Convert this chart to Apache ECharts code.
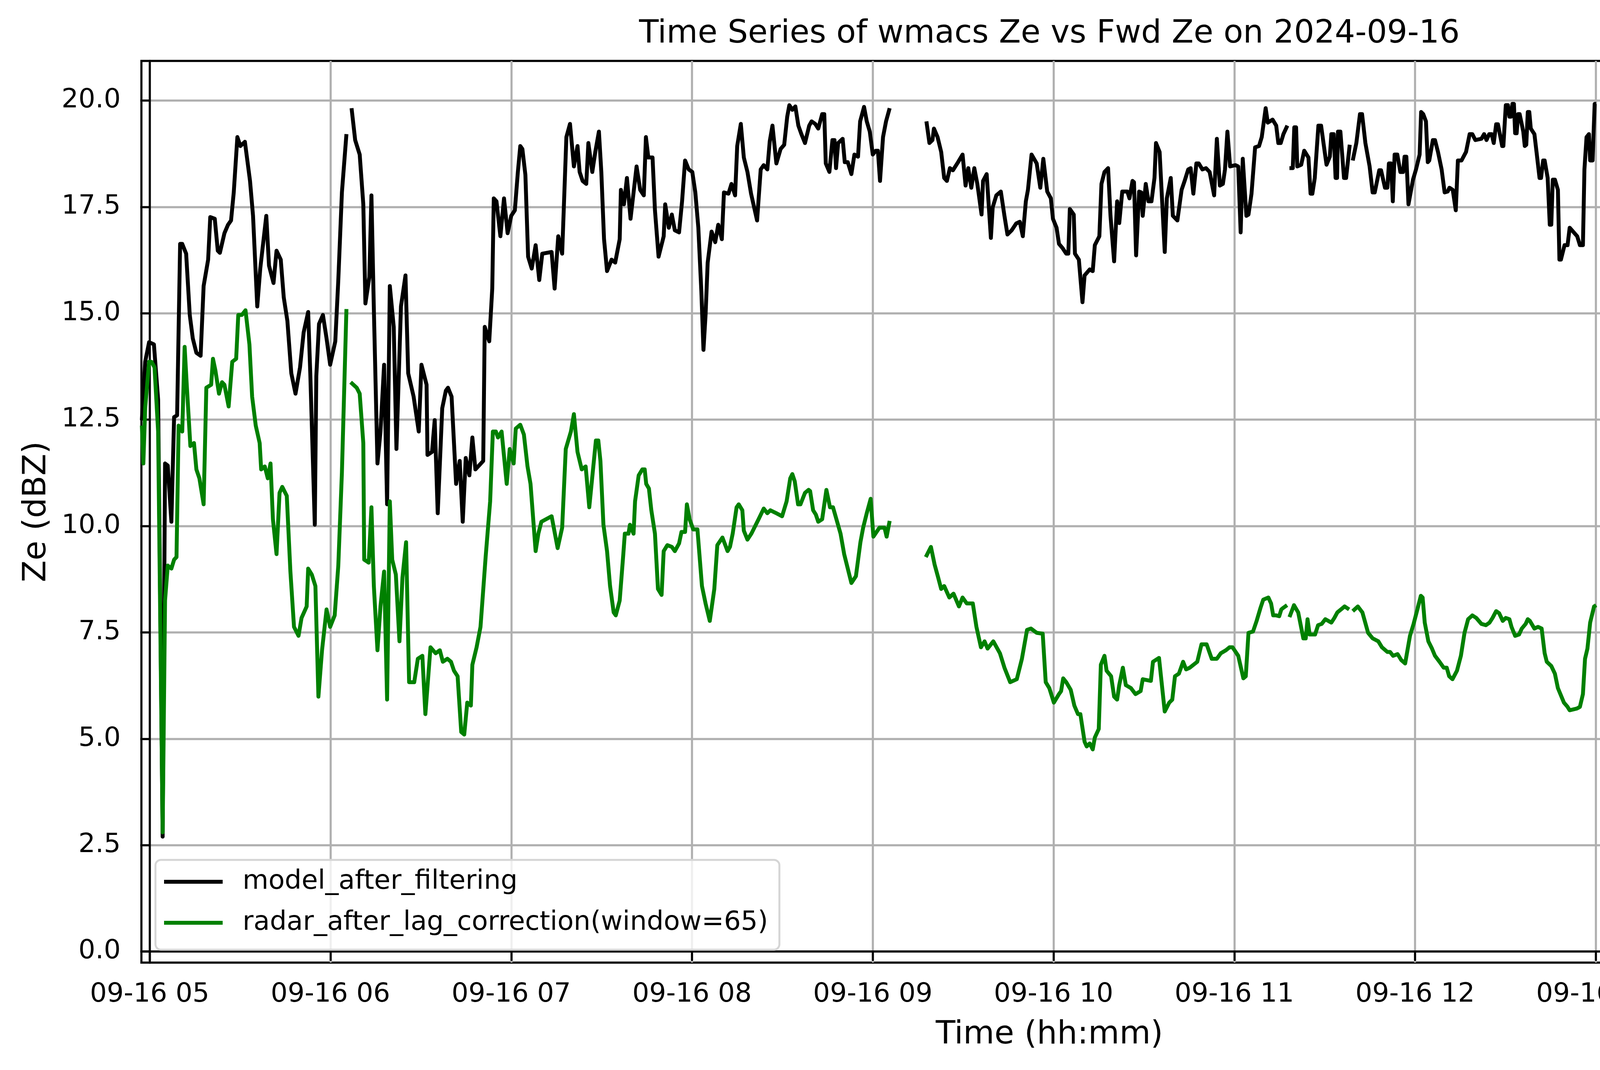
<!DOCTYPE html>
<html>
<head>
<meta charset="utf-8">
<title>Time Series of wmacs Ze vs Fwd Ze on 2024-09-16</title>
<script src="https://cdn.jsdelivr.net/npm/echarts@6/dist/echarts.min.js"></script>
<style>
  html, body { margin: 0; padding: 0; background: #fff; }
  #main { width: 5216px; height: 2740px; }
</style>
</head>
<body>
<div id="main"></div>
<script>
// minutes after 09-16 05:00; null = gap in the record
var modelMinutes = [
  -2.6,-1.5,-0.2,1.4,2.8,4.3,5.1,6.0,7.2,8.1,
  9.1,10.1,10.8,12.1,13.3,14.3,15.5,16.9,17.9,19.4,
  20.1,21.6,22.6,23.3,24.8,26.0,27.0,27.9,29.1,30.1,
  31.6,33.3,34.3,35.7,36.7,38.7,39.6,41.1,42.1,43.5,
  44.5,45.7,47.0,48.4,49.9,51.1,52.6,53.3,54.8,55.3,
  56.2,57.5,58.7,59.9,61.6,62.6,63.8,65.3,66.1,67.0,
  68.2,69.7,70.9,71.6,72.9,73.6,74.4,75.6,76.6,77.8,
  78.8,79.7,81.0,81.9,83.4,84.9,85.8,87.6,89.3,90.2,
  91.9,92.2,93.7,94.6,95.6,97.1,98.3,99.0,100.2,101.7,
  102.9,103.9,104.9,106.1,107.1,108.1,110.7,111.2,112.7,113.7,
  114.2,115.1,116.4,117.6,118.8,120.0,121.2,122.2,123.0,123.7,
  124.7,125.6,126.8,128.1,129.3,130.3,133.4,134.4,135.6,136.9,
  138.3,139.5,140.8,142.0,142.7,143.7,144.9,145.6,146.9,147.9,
  149.1,149.9,150.8,151.8,153.3,154.5,156.0,156.4,157.4,158.4,
  159.6,161.6,162.8,164.0,164.7,165.5,166.9,167.7,168.9,170.6,
  171.1,172.3,173.3,174.3,175.7,176.7,177.7,178.9,180.1,181.1,
  182.1,183.1,183.8,184.5,185.2,186.5,187.7,188.7,189.9,190.6,
  192.1,193.1,194.3,195.0,196.2,197.2,198.4,199.6,201.6,202.8,
  203.8,205.0,205.8,206.7,208.0,209.4,210.6,211.6,212.3,213.3,
  214.3,215.3,216.3,217.5,218.9,219.7,220.9,221.9,223.2,223.9,
  224.4,225.6,226.6,227.3,227.8,228.5,230.0,230.7,231.7,232.9,
  233.9,235.1,235.8,237.1,238.0,239.0,240.0,241.0,241.7,242.4,
  243.4,244.4,245.6,246.5,257.8,258.8,259.8,260.3,261.5,262.7,
  263.7,264.6,265.6,266.6,268.3,269.8,270.8,271.7,272.7,273.7,
  274.7,276.1,276.6,277.8,279.2,279.8,281.0,282.5,283.7,284.7,
  286.1,287.6,288.8,289.8,290.8,291.5,292.7,294.4,295.6,296.6,
  297.9,299.1,299.8,301.0,301.8,303.0,304.2,304.9,305.4,306.7,
  307.1,308.4,309.6,310.3,312.0,313.0,313.7,315.2,315.9,316.9,
  318.1,318.9,320.1,321.1,321.8,322.8,324.5,325.2,326.2,326.7,
  327.4,328.4,329.1,329.6,330.6,331.5,332.5,333.5,334.0,335.2,
  336.9,337.6,338.9,339.6,341.1,342.5,343.5,344.7,345.5,346.4,
  347.4,348.2,349.4,350.6,351.8,353.3,354.2,355.2,356.2,356.9,
  357.7,358.6,360.4,361.3,362.1,362.8,364.0,364.7,365.7,366.9,
  368.2,369.1,370.4,371.1,372.7,373.9,374.6,375.4,376.3,377.6,
  378.0,378.3,379.4,379.9,380.5,380.9,382.2,383.2,384.6,385.3,
  385.9,386.7,387.9,388.8,390.0,390.6,391.7,392.2,393.0,393.6,
  394.1,394.4,395.2,396.4,397.1,398.3,398.8,399.3,400.5,401.7,
  402.4,403.5,404.9,405.9,406.6,408.1,408.7,410.0,410.8,411.3,
  412.0,412.6,413.2,414.1,415.1,416.0,416.5,417.1,417.8,419.3,
  420.3,421.5,422.0,422.7,423.6,424.2,424.7,425.9,426.6,427.6,
  428.8,429.8,430.8,431.4,432.5,433.5,434.2,435.4,436.9,438.1,
  439.0,440.0,442.0,442.9,443.7,444.6,445.4,446.1,446.9,447.5,
  448.9,449.3,450.1,450.8,451.3,451.8,452.3,452.8,453.2,453.7,
  454.2,454.7,455.9,456.4,456.9,457.4,457.9,458.4,459.6,460.3,
  461.3,461.8,462.5,463.0,464.0,464.7,465.2,465.7,466.4,467.4,
  467.9,468.4,469.6,470.6,471.3,473.8,474.7,475.7,476.2,476.9,
  477.7,478.1,478.9,479.6,480.1,481.5,483.3,484.0,485.2,486.4,
  487.7,487.9,488.4,488.9,489.6,490.6,491.6,492.5,493.5,494.7,
  496.0,497.2,498.4,498.9,499.6,500.1,500.6,501.1,502.1,503.3,
  504.3,505.2,506.2,507.4,508.2,509.6,510.1,510.8,511.3,512.1,
  513.0,514.0,514.5,515.2,516.2,516.9,518.7,520.1,521.1,521.6,
  522.1,523.3,524.3,525.1,525.9,526.4,527.5,528.3,529.3,530.1,
  530.9,531.5,532.5,533.4,534.4,535.2,535.8,536.9,538.5,539.4,
  540.5,541.3,542.1,543.1,543.6,544.4,545.0,546.6,548.1,548.9,
  549.7,550.8,551.6,552.4,553.4,554.2,555.1,556.0,556.6,557.4,
  558.5,559.5,560.3,561.4,562.4,563.4,564.0,564.6,565.6,566.7,
  567.5,568.3,569.1,570.1,571.2,572.2,573.6,574.4,575.2,576.0,
  576.5,577.3,578.1,578.9,579.7,582.0,584.9,587.1,590.0,595.8,
  596.9,597.7,598.7,599.9
];
var modelZe = [
  12.49,13.86,14.32,14.27,12.97,2.70,11.47,11.42,10.10,12.56,
  12.60,16.63,16.63,16.40,14.96,14.41,14.07,14.00,15.64,16.26,
  17.26,17.22,16.47,16.42,16.88,17.08,17.18,17.84,19.14,18.93,
  19.03,18.11,17.29,15.16,16.05,17.29,16.12,15.71,16.47,16.26,
  15.37,14.82,13.59,13.11,13.73,14.55,15.03,13.59,10.03,13.52,
  14.75,14.96,14.41,13.79,14.34,15.78,17.84,19.21,null,19.82,
  19.07,18.73,17.56,15.23,15.85,17.77,15.10,11.47,12.22,13.79,
  10.51,15.64,14.68,11.81,15.16,15.89,13.59,13.04,12.22,13.79,
  13.32,11.67,11.74,12.49,10.30,12.77,13.18,13.25,13.04,10.99,
  11.53,10.10,11.60,11.19,12.08,11.33,11.53,14.68,14.34,15.58,
  17.70,17.63,16.81,17.70,16.88,17.29,17.42,18.32,18.93,18.86,
  18.25,16.33,16.05,16.60,15.78,16.40,16.44,15.58,16.81,16.40,
  19.14,19.45,18.45,18.93,18.32,18.11,18.04,19.00,18.32,18.79,
  19.27,18.32,16.74,15.99,16.26,16.19,16.74,17.90,17.56,18.18,
  17.22,18.45,17.90,17.77,19.14,18.66,18.66,17.42,16.33,16.81,
  17.56,17.01,17.32,16.95,16.90,17.63,18.59,18.38,18.32,17.84,
  17.01,15.51,14.14,14.96,16.19,16.92,16.67,17.08,16.74,17.84,
  17.81,18.04,17.77,18.93,19.45,18.66,18.32,17.81,17.18,18.38,
  18.48,18.38,19.04,19.41,18.52,18.86,18.96,19.62,19.89,19.78,
  19.86,19.41,19.21,19.00,19.41,19.51,19.45,19.34,19.68,19.68,
  18.52,18.32,19.07,19.07,18.41,19.00,19.10,18.55,18.55,18.27,
  18.73,18.68,19.51,19.85,19.51,19.27,18.73,18.82,18.82,18.11,
  19.14,19.51,19.82,null,19.51,19.00,19.07,19.34,19.14,18.79,
  18.18,18.11,18.41,18.36,18.55,18.73,18.00,18.41,17.95,18.41,
  18.04,17.32,18.11,18.27,16.77,17.49,17.77,17.86,17.29,16.85,
  16.95,17.11,17.15,16.81,17.63,17.90,18.73,18.52,17.95,18.63,
  17.86,17.70,17.22,17.01,16.63,16.53,16.40,16.40,17.45,17.32,
  16.40,16.26,15.26,15.89,16.03,15.99,16.60,16.81,18.04,18.32,
  18.41,17.29,16.22,17.63,17.12,17.86,17.86,17.70,18.11,18.08,
  16.36,17.86,17.84,17.29,18.04,17.63,17.63,18.18,19.00,18.79,
  16.44,17.70,18.18,17.29,17.18,17.90,18.11,18.38,18.41,17.81,
  18.52,18.52,18.38,18.41,18.32,17.77,19.10,18.00,18.04,18.38,
  19.27,18.45,18.48,18.45,16.90,18.63,17.29,17.32,17.81,18.90,
  18.93,19.14,19.82,19.48,19.55,19.41,19.00,19.00,19.21,19.41,
  null,18.41,18.41,19.37,19.37,18.45,18.49,18.82,18.66,17.81,
  17.81,18.18,19.41,19.41,18.79,18.49,18.68,19.21,19.21,18.18,
  18.18,19.27,19.27,18.18,18.18,18.96,null,18.59,19.00,19.68,
  19.68,19.00,18.45,17.84,17.84,18.36,18.36,17.95,17.95,18.52,
  18.52,17.63,18.73,18.73,18.32,18.32,18.68,18.68,17.56,18.14,
  18.38,18.73,19.73,19.68,19.51,18.55,18.59,19.07,19.07,18.79,
  18.38,17.84,17.86,17.95,17.90,17.42,18.59,18.59,18.79,19.21,
  19.21,19.07,19.10,19.21,19.07,19.21,19.21,19.00,19.44,19.44,
  18.93,18.93,19.89,19.89,19.62,19.62,19.92,19.92,19.23,19.23,
  19.68,19.68,19.27,18.93,18.96,19.73,19.73,19.34,19.21,18.79,
  18.18,18.18,18.59,18.59,18.18,17.08,17.08,18.14,18.14,17.90,
  16.26,16.26,16.60,16.60,17.01,16.81,16.60,16.60,18.38,19.14,
  19.21,18.59,18.59,19.92,19.92,null,19.86,19.82,19.62,18.79,
  18.18,17.49,17.49,19.82,19.82,19.68,19.07,16.81,16.33,14.89,
  14.21,13.52,12.70,12.70,14.07,14.07,11.88,11.88,12.56,13.79,
  14.34,14.62,15.51,16.81,16.74,18.11,18.11,17.22,17.22,17.95,
  18.18,18.52,18.52,18.11,18.25,18.18,17.49,16.95,16.40,15.44,
  15.44,16.81,17.84,18.04,17.63,17.63,18.52,18.68,18.59,18.11,
  18.63,18.63,18.32,17.49,17.40,16.99,17.67,17.90,17.95,17.15,
  17.90,17.81,17.86,18.00,18.82,18.45,18.45,18.82,18.86,19.48,
  19.27,19.21,19.27,19.21,18.73,18.32,18.11,19.14,19.14,18.73,
  18.36,18.38,18.41,18.45,18.41,18.55,18.55,15.58,15.71,14.62,
  13.38,12.77,12.70,13.11,14.96,15.78,16.81,17.63,18.18,17.86,
  17.84,18.14,18.00,18.00,18.86,null,20.00,19.89,null,19.92,
  19.14,17.84,17.49,16.63
];

var radarMinutes = [
  -2.6,-2.1,-1.5,-0.2,0.6,1.6,2.8,4.3,5.1,6.0,
  7.2,8.1,8.9,9.6,10.8,11.6,12.3,13.5,14.7,15.5,
  16.5,17.9,18.8,20.4,21.0,21.8,23.0,24.0,24.8,26.2,
  27.4,28.7,29.4,30.6,31.8,33.1,34.0,35.2,36.5,37.0,
  38.2,39.2,40.1,40.9,42.1,43.1,44.0,45.5,46.7,47.9,
  49.4,50.4,52.1,52.6,53.8,55.0,56.0,57.2,58.7,59.9,
  61.4,62.6,63.8,65.3,66.1,66.7,68.7,69.7,70.9,71.2,
  72.7,73.6,74.4,75.6,76.6,77.8,78.8,79.7,80.5,81.7,
  82.9,83.9,85.1,86.1,87.8,89.0,90.5,91.5,93.2,94.9,
  96.3,97.3,98.8,100.0,101.0,102.2,103.4,104.4,105.4,106.6,
  107.1,108.5,109.8,111.5,113.0,113.9,114.9,115.6,116.8,118.5,
  119.5,120.8,121.5,123.0,124.2,125.4,126.4,128.1,129.0,130.0,
  133.4,135.4,136.9,138.1,139.8,140.8,142.0,143.4,144.7,145.9,
  148.1,148.9,149.6,150.6,151.8,152.8,154.0,154.7,156.0,157.2,
  157.7,158.9,159.4,160.6,161.1,162.3,163.5,164.3,164.8,165.7,
  166.5,167.7,168.7,169.9,170.6,171.8,173.3,174.3,175.7,176.5,
  177.7,178.3,179.2,180.4,181.8,183.3,184.5,185.9,187.4,188.4,
  190.1,191.8,192.6,193.5,194.8,195.5,196.7,197.2,198.4,199.7,
  202.1,203.8,205.0,206.0,208.0,209.9,211.4,212.6,213.3,214.1,
  215.2,216.0,217.5,218.7,219.2,220.2,221.1,221.9,223.2,224.6,
  225.8,226.8,229.3,230.5,232.9,234.4,235.9,236.8,238.0,239.3,
  240.2,242.2,243.9,244.6,245.6,246.5,257.6,259.3,260.5,261.7,
  262.7,263.7,265.4,266.8,268.6,269.8,271.2,273.2,274.4,275.9,
  277.1,278.1,280.0,282.2,283.7,285.6,287.8,289.5,291.2,292.5,
  294.4,296.4,297.4,298.6,300.1,301.8,302.5,303.2,304.2,305.7,
  306.9,308.1,308.9,310.3,311.0,312.0,313.0,313.7,315.0,315.7,
  316.9,317.6,319.1,320.1,321.1,321.8,323.0,324.0,325.7,327.2,
  328.9,329.6,332.3,333.0,335.0,336.9,338.4,339.4,340.3,341.6,
  343.0,344.0,345.2,347.7,349.1,350.8,352.5,354.2,355.5,357.2,
  358.4,359.4,361.3,363.0,363.8,364.7,366.2,367.4,368.7,369.6,
  371.3,372.2,372.9,373.9,374.9,375.6,376.3,377.5,378.0,378.3,
  379.8,381.2,382.9,383.7,384.3,385.0,386.8,387.8,389.0,390.2,
  392.2,393.2,394.2,395.4,396.6,398.1,398.8,399.3,401.0,402.5,
  404.4,405.9,407.8,409.0,410.8,411.7,412.7,414.2,415.4,416.7,
  418.3,419.5,420.5,421.9,422.5,423.2,424.4,425.6,426.6,428.1,
  429.5,430.5,431.3,432.4,433.9,435.2,436.4,437.6,439.0,440.3,
  442.0,443.5,444.7,445.7,446.9,447.9,449.1,450.1,451.3,452.0,
  453.2,454.5,455.4,456.7,457.4,458.1,459.6,460.8,462.0,463.0,
  463.7,465.2,466.4,467.4,469.4,470.6,471.3,473.7,474.7,475.7,
  476.4,477.2,478.1,479.4,480.1,481.5,483.3,484.0,485.5,486.4,
  487.4,488.2,489.0,489.5,490.0,490.4,491.6,492.8,494.7,497.9,
  499.4,500.4,500.8,502.1,502.8,504.0,505.2,506.2,507.4,508.2,
  508.9,509.4,510.4,511.6,512.1,512.8,513.8,514.8,515.7,516.7,
  518.7,519.9,520.6,521.3,522.2,523.3,524.3,525.1,526.4,528.0,
  529.6,531.2,532.5,533.1,534.1,535.4,536.2,537.3,538.4,539.4,
  541.0,542.6,544.4,545.5,547.6,549.3,550.2,551.1,552.6,553.7,
  555.6,557.1,558.7,560.1,560.9,561.6,562.2,563.5,564.0,565.1,
  566.2,566.9,568.3,570.1,571.2,572.2,573.3,574.6,576.2,577.3,
  577.8,578.9,579.9,582.0,585.2,586.8,590.0,595.8,596.9,597.9,
  599.0,599.9
];
var radarZe = [
  12.36,11.47,12.77,13.86,13.86,13.73,12.22,2.80,8.25,9.07,
  9.00,9.21,9.27,12.36,12.22,14.21,13.32,11.88,11.95,11.33,
  11.12,10.51,13.25,13.32,13.93,13.66,13.11,13.38,13.32,12.81,
  13.86,13.93,14.96,14.96,15.07,14.27,13.04,12.36,11.95,11.33,
  11.40,11.12,11.47,10.16,9.34,10.78,10.92,10.71,8.93,7.63,
  7.42,7.84,8.11,9.00,8.86,8.59,5.99,7.08,8.04,7.63,
  7.90,9.07,11.26,15.10,null,13.38,13.25,13.11,11.95,9.21,
  9.14,10.44,8.59,7.08,8.11,8.93,5.92,10.58,9.21,8.86,
  7.29,8.79,9.62,6.33,6.33,6.88,6.95,5.58,7.15,7.01,
  7.08,6.81,6.88,6.81,6.60,6.47,5.16,5.10,5.85,5.78,
  6.74,7.15,7.63,9.27,10.58,12.22,12.22,12.08,12.22,10.99,
  11.81,11.47,12.29,12.38,12.15,11.40,10.99,9.41,9.82,10.10,
  10.23,9.48,9.96,11.81,12.22,12.63,11.74,11.33,11.40,10.44,
  12.01,12.01,11.53,10.03,9.41,8.59,7.97,7.90,8.25,9.34,
  9.82,9.82,10.03,9.82,10.58,11.19,11.33,11.33,10.99,10.88,
  10.37,9.82,8.52,8.38,9.41,9.55,9.51,9.41,9.59,9.86,
  9.86,10.51,10.16,9.92,9.92,8.59,8.18,7.77,8.52,9.55,
  9.73,9.41,9.51,9.82,10.44,10.51,10.37,9.89,9.68,9.82,
  10.16,10.41,10.30,10.37,10.30,10.23,10.58,11.12,11.22,11.05,
  10.51,10.51,10.78,10.85,10.82,10.37,10.27,10.10,10.16,10.85,
  10.44,10.44,9.82,9.34,8.66,8.82,9.62,9.96,10.30,10.64,
  9.75,9.96,9.96,9.75,10.12,null,9.27,9.51,9.10,8.79,
  8.52,8.59,8.32,8.41,8.11,8.32,8.18,8.18,7.63,7.15,
  7.29,7.12,7.29,7.01,6.67,6.33,6.40,6.88,7.56,7.59,
  7.49,7.47,6.33,6.19,5.85,6.05,6.12,6.42,6.33,6.15,
  5.78,5.58,5.58,4.93,4.82,4.89,4.75,5.03,5.23,6.74,
  6.95,6.60,6.47,5.99,5.92,6.26,6.67,6.26,6.19,6.05,
  6.12,6.40,6.36,6.81,6.90,5.64,5.85,5.92,6.47,6.53,
  6.81,6.63,6.67,6.81,7.22,7.22,6.88,6.88,7.01,7.08,
  7.15,7.15,6.95,6.42,6.47,7.49,7.52,7.77,8.08,8.27,
  8.32,8.18,7.90,7.90,7.88,8.04,8.08,8.14,null,7.86,
  8.14,7.97,7.36,7.36,7.81,7.45,7.45,7.67,7.70,7.81,
  7.73,7.84,7.97,8.04,8.11,8.04,null,8.00,8.11,7.97,
  7.49,7.36,7.29,7.15,7.04,7.04,6.95,6.99,6.85,6.77,
  7.42,7.70,7.97,8.36,8.32,7.73,7.29,7.12,6.95,6.81,
  6.67,6.67,6.47,6.40,6.60,6.95,7.49,7.81,7.90,7.84,
  7.70,7.67,7.73,7.84,8.00,7.95,7.77,7.84,7.81,7.63,
  7.42,7.45,7.59,7.70,7.81,7.77,7.59,7.63,7.59,7.01,
  6.81,6.71,6.53,6.19,5.85,5.75,5.67,5.71,5.75,6.05,
  6.88,7.12,7.73,8.11,8.14,null,8.73,8.73,8.45,8.32,
  7.81,6.33,5.92,5.92,7.12,7.12,6.77,5.51,2.08,0.92,
  0.78,1.29,1.29,0.78,0.74,0.96,2.49,4.68,5.64,5.71,
  5.12,5.12,5.67,5.75,6.74,6.74,6.60,6.19,5.99,5.58,
  5.51,5.48,4.48,4.48,4.55,5.64,5.92,6.47,6.60,6.74,
  6.67,6.60,6.53,6.12,6.05,6.03,5.85,5.92,5.78,5.85,
  5.95,6.40,6.22,6.26,6.95,7.56,7.59,7.40,7.12,7.01,
  6.99,6.95,7.01,7.29,7.32,6.67,6.67,7.08,7.08,5.23,
  3.86,2.97,3.15,3.38,3.59,4.82,5.58,5.92,6.05,5.92,
  5.92,6.26,7.36,null,8.52,8.04,null,6.47,5.78,4.82,
  4.00,4.07
];

var xTickMinutes = [0, 60, 120, 180, 240, 300, 360, 420, 480, 540, 600];
var xTickLabels = ['09-16 05', '09-16 06', '09-16 07', '09-16 08', '09-16 09', '09-16 10',
                   '09-16 11', '09-16 12', '09-16 13', '09-16 14', '09-16 15'];
var yTicks = [0, 2.5, 5, 7.5, 10, 12.5, 15, 17.5, 20];

var FONT = 'DejaVu Sans';
var titleText = 'Time Series of wmacs Ze vs Fwd Ze on 2024-09-16';

// grid box (px)
var gridLeft = 362, gridRight = 205, gridTop = 156, gridBottom = 275;

function toPairs(xs, ys) {
  return xs.map(function (x, i) {
    return [x, ys[i] === null ? '-' : ys[i]];
  });
}

// centre the title over the plot, not the page
var measure = document.createElement('canvas').getContext('2d');
measure.font = '82px "' + FONT + '"';
var titleWidth = measure.measureText(titleText).width;
var plotCentre = gridLeft + (5216 - gridLeft - gridRight) / 2;

var chartDom = document.getElementById('main');
var myChart = echarts.init(chartDom, null, { renderer: 'canvas' });

var option = {
  animation: false,
  backgroundColor: '#ffffff',
  title: {
    text: titleText,
    left: Math.round(plotCentre - titleWidth / 2),
    top: 47,
    padding: 0,
    textStyle: { fontFamily: FONT, fontSize: 82, fontWeight: 'normal', color: '#000', lineHeight: 82 }
  },
  legend: {
    orient: 'vertical',
    left: 398,
    top: 2202,
    padding: [21, 29, 34, 22],
    itemGap: 35,
    itemWidth: 150,
    itemHeight: 10,
    icon: 'rect',
    backgroundColor: 'rgba(255,255,255,0.8)',
    borderColor: '#d5d5d5',
    borderWidth: 5,
    borderRadius: 14,
    textStyle: { fontFamily: FONT, fontSize: 68, lineHeight: 70, color: '#000', padding: [0, 0, 0, 46] },
    data: ['model_after_filtering', 'radar_after_lag_correction(window=65)']
  },
  grid: {
    left: gridLeft,
    right: gridRight,
    top: gridTop,
    bottom: gridBottom,
    outerBoundsMode: 'none',
    show: true,
    borderColor: '#000',
    borderWidth: 5.4,
    backgroundColor: 'transparent'
  },
  xAxis: {
    type: 'value',
    min: -2.75,
    max: 600,
    name: 'Time (hh:mm)',
    nameLocation: 'middle',
    nameGap: 145,
    nameTextStyle: { fontFamily: FONT, fontSize: 82, color: '#000', lineHeight: 82 },
    axisLine: { show: true, lineStyle: { color: '#000', width: 5.4 } },
    axisTick: { show: true, customValues: xTickMinutes, length: 24, lineStyle: { color: '#000', width: 5.4 } },
    axisLabel: {
      customValues: xTickMinutes,
      margin: 48,
      fontFamily: FONT,
      fontSize: 68,
      lineHeight: 68,
      color: '#000',
      formatter: function (v) { return xTickLabels[xTickMinutes.indexOf(v)] || ''; }
    },
    splitLine: { show: true, lineStyle: { color: '#b0b0b0', width: 5.4 } }
  },
  yAxis: {
    type: 'value',
    min: -0.26,
    max: 20.93,
    name: 'Ze (dBZ)',
    nameLocation: 'middle',
    nameRotate: 90,
    nameGap: 226,
    nameTextStyle: { fontFamily: FONT, fontSize: 82, color: '#000', lineHeight: 82 },
    axisLine: { show: true, lineStyle: { color: '#000', width: 5.4 } },
    axisTick: { show: true, customValues: yTicks, length: 24, lineStyle: { color: '#000', width: 5.4 } },
    axisLabel: {
      customValues: yTicks,
      margin: 53,
      fontFamily: FONT,
      fontSize: 68,
      color: '#000',
      formatter: function (v) { return v.toFixed(1); }
    },
    splitLine: { show: true, lineStyle: { color: '#b0b0b0', width: 5.4 } }
  },
  series: [
    {
      name: 'model_after_filtering',
      type: 'line',
      data: toPairs(modelMinutes, modelZe),
      symbol: 'none',
      showSymbol: false,
      connectNulls: false,
      itemStyle: { color: '#000000' },
      lineStyle: { color: '#000000', width: 10, join: 'round' }
    },
    {
      name: 'radar_after_lag_correction(window=65)',
      type: 'line',
      data: toPairs(radarMinutes, radarZe),
      symbol: 'none',
      showSymbol: false,
      connectNulls: false,
      itemStyle: { color: '#008000' },
      lineStyle: { color: '#008000', width: 10, join: 'round' }
    }
  ]
};

myChart.setOption(option);

window.addEventListener('resize', function () { myChart.resize(); });
</script>
</body>
</html>
